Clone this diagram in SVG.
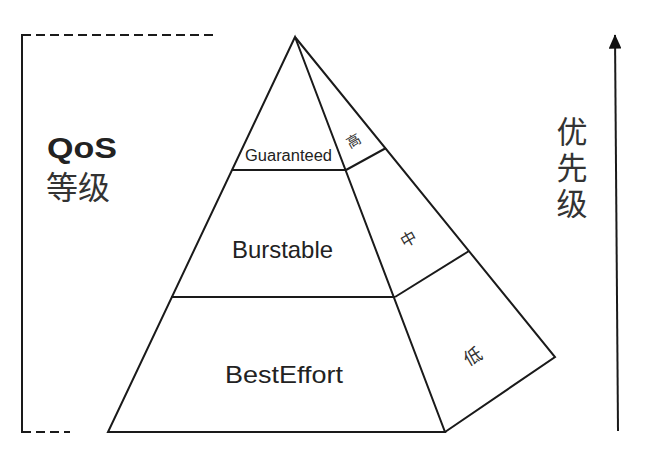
<svg xmlns="http://www.w3.org/2000/svg" width="655" height="450" viewBox="0 0 655 450">
<defs>
<style>
.ln{stroke:#1a1a1a;stroke-width:2;fill:none;stroke-linejoin:miter}
.dash{stroke:#1a1a1a;stroke-width:2.2;fill:none;stroke-dasharray:9 5}
.en{font-family:"Liberation Sans",Arial,sans-serif;fill:#222}
.cj{font-family:"Noto Sans CJK SC","Noto Sans",sans-serif;fill:#333}
</style>
<marker id="ah" viewBox="0 0 18 16" refX="17" refY="8" markerWidth="7.2" markerHeight="6.4" orient="auto" markerUnits="strokeWidth">
<path d="M0,0 L18,8 L0,16 z" fill="#111"/>
</marker>
</defs>
<rect width="655" height="450" fill="#fff"/>
<g id="bracket">
<line class="ln" x1="22" y1="34" x2="22" y2="433" stroke-width="2.5"/>
<line class="dash" x1="22" y1="35" x2="214" y2="35"/>
<line class="dash" x1="22" y1="432" x2="70" y2="432"/>
</g>
<g id="qos-label">
<text class="en" x="47" y="158" font-size="29" font-weight="bold" fill="#111" textLength="70" lengthAdjust="spacingAndGlyphs">QoS</text>
<text class="cj" x="46" y="199" font-size="32" fill="#444">等级</text>
</g>
<g id="pyramid">
<polygon class="ln" points="295,37 108,432 445,432"/>
<polyline class="ln" points="295,37 555,357 445,432"/>
</g>
<g id="guaranteed">
<line class="ln" x1="232" y1="170" x2="346" y2="170"/>
<text class="en" x="245" y="161" font-size="16" textLength="87" lengthAdjust="spacingAndGlyphs">Guaranteed</text>
</g>
<g id="burstable">
<line class="ln" x1="171" y1="297" x2="395" y2="297"/>
<text class="en" x="232" y="258" font-size="24" textLength="101" lengthAdjust="spacingAndGlyphs">Burstable</text>
</g>
<g id="besteffort">
<text class="en" x="225" y="383" font-size="24" textLength="118" lengthAdjust="spacingAndGlyphs">BestEffort</text>
</g>
<g id="high">
<line class="ln" x1="346" y1="170" x2="386" y2="148"/>
<text class="cj" x="0" y="0" font-size="14" text-anchor="middle" dominant-baseline="central" transform="translate(353,140) rotate(-30)">高</text>
</g>
<g id="mid">
<line class="ln" x1="395" y1="297" x2="469" y2="251"/>
<text class="cj" x="0" y="0" font-size="16" text-anchor="middle" dominant-baseline="central" transform="translate(408,238) rotate(-30)">中</text>
</g>
<g id="low">
<text class="cj" x="0" y="0" font-size="18" text-anchor="middle" dominant-baseline="central" transform="translate(472,355) rotate(-30)">低</text>
</g>
<g id="priority">
<text class="cj" x="572" y="116" font-size="31" fill="#333" writing-mode="vertical-rl" letter-spacing="5">优先级</text>
</g>
<g id="connectors">
<line class="ln" x1="618" y1="431" x2="615" y2="35" stroke-width="2.5" marker-end="url(#ah)"/>
</g>
</svg>
